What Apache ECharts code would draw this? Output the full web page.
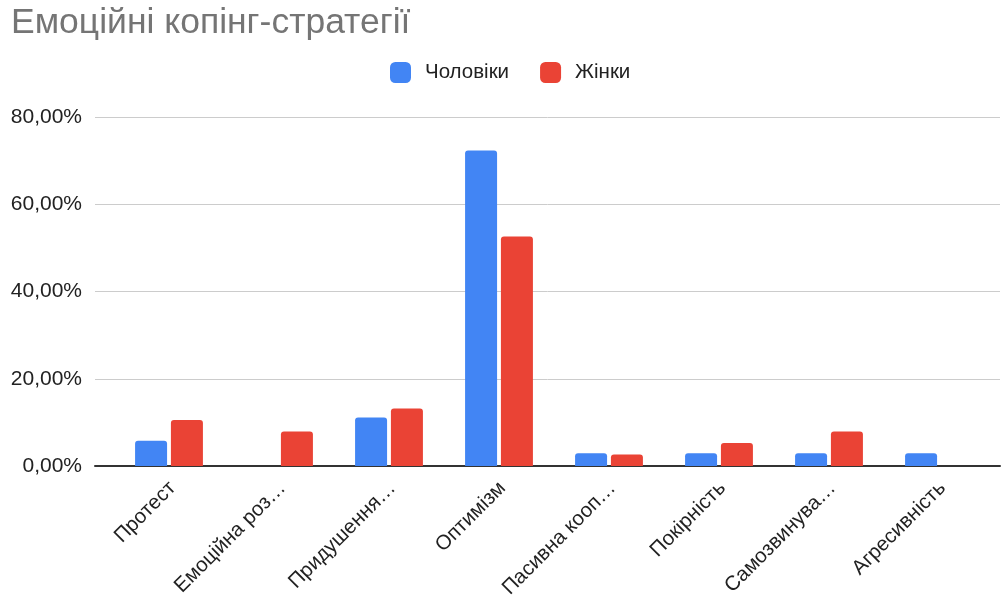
<!DOCTYPE html>
<html>
<head>
<meta charset="utf-8">
<script src="https://cdn.jsdelivr.net/npm/echarts@6/dist/echarts.min.js"></script>
<style>
  html, body { margin: 0; padding: 0; background: #fff; }
  #chart { width: 1002px; height: 598px; }
</style>
</head>
<body>
<div id="chart"></div>
<script>
// Coping strategy categories (axis tick labels as displayed)
const categories = [
  'Протест',
  'Емоційна роз…',
  'Придушення…',
  'Оптимізм',
  'Пасивна кооп…',
  'Покірність',
  'Самозвинува…',
  'Агресивність'
];

// Share of respondents, percent
const men = [5.8, 0, 11.1, 72.3, 2.9, 2.9, 2.9, 2.9];
const women = [10.53, 7.89, 13.16, 52.63, 2.63, 5.26, 7.89, 0];

const seriesNames = ['Чоловіки', 'Жінки'];
const yTicks = { min: 0, max: 80, interval: 20 };

const FONT = 'Liberation Sans, Arial, Helvetica, sans-serif';
const fmtPct = v => v.toFixed(2).replace('.', ',') + '%';

const chart = echarts.init(document.getElementById('chart'), null, { renderer: 'canvas' });

chart.setOption({
  backgroundColor: '#ffffff',
  animation: false,
  textStyle: { fontFamily: FONT },
  title: {
    text: 'Емоційні копінг-стратегії',
    left: 6,
    top: 0,
    textStyle: { fontFamily: FONT, fontSize: 35.5, fontWeight: 'normal', color: '#757575' }
  },
  legend: {
    data: seriesNames,
    left: 385,
    top: 57,
    itemWidth: 21,
    itemHeight: 21,
    itemGap: 31,
    icon: 'roundRect',
    textStyle: { fontFamily: FONT, fontSize: 20.5, color: '#222', padding: [0, 0, 0, 9] }
  },
  grid: [
    // full-width grid carrying the gridlines and the baseline
    { left: 95, right: 2, top: 117, bottom: 132, containLabel: false, outerBoundsMode: 'none' },
    // inner grid carrying the bars
    { left: 114, right: 8, top: 117, bottom: 132, containLabel: false, outerBoundsMode: 'none' }
  ],
  xAxis: [
    {
      gridIndex: 0,
      type: 'value',
      min: 0, max: 1,
      show: true,
      axisLine: { show: true, lineStyle: { color: '#333', width: 2 } },
      axisTick: { show: false },
      axisLabel: { show: false },
      splitLine: { show: false }
    },
    {
      gridIndex: 1,
      type: 'category',
      data: categories,
      axisLine: { show: false },
      axisTick: { show: false },
      axisLabel: {
        interval: 0,
        rotate: 45,
        margin: 22.5,
        padding: [0, -5, 0, 0],
        fontFamily: FONT,
        fontSize: 20.5,
        color: '#222'
      }
    }
  ],
  yAxis: [
    {
      gridIndex: 0,
      type: 'value',
      min: yTicks.min,
      max: yTicks.max,
      interval: yTicks.interval,
      axisLine: { show: false },
      axisTick: { show: false },
      axisLabel: {
        fontFamily: FONT,
        fontSize: 21,
        color: '#222',
        margin: 13,
        formatter: fmtPct
      },
      splitLine: { lineStyle: { color: '#cccccc', width: 1 } }
    },
    {
      gridIndex: 1,
      type: 'value',
      min: yTicks.min,
      max: yTicks.max,
      interval: yTicks.interval,
      show: false,
      splitLine: { show: false }
    }
  ],
  series: [
    {
      name: seriesNames[0],
      type: 'bar',
      xAxisIndex: 1,
      yAxisIndex: 1,
      data: men,
      barWidth: 32,
      barGap: '12%',
      itemStyle: { color: '#4285F4', borderRadius: [3, 3, 0, 0] },
      z: 1
    },
    {
      name: seriesNames[1],
      type: 'bar',
      xAxisIndex: 1,
      yAxisIndex: 1,
      data: women,
      barWidth: 32,
      barGap: '12%',
      itemStyle: { color: '#EA4335', borderRadius: [3, 3, 0, 0] },
      z: 1
    }
  ]
});
</script>
</body>
</html>
